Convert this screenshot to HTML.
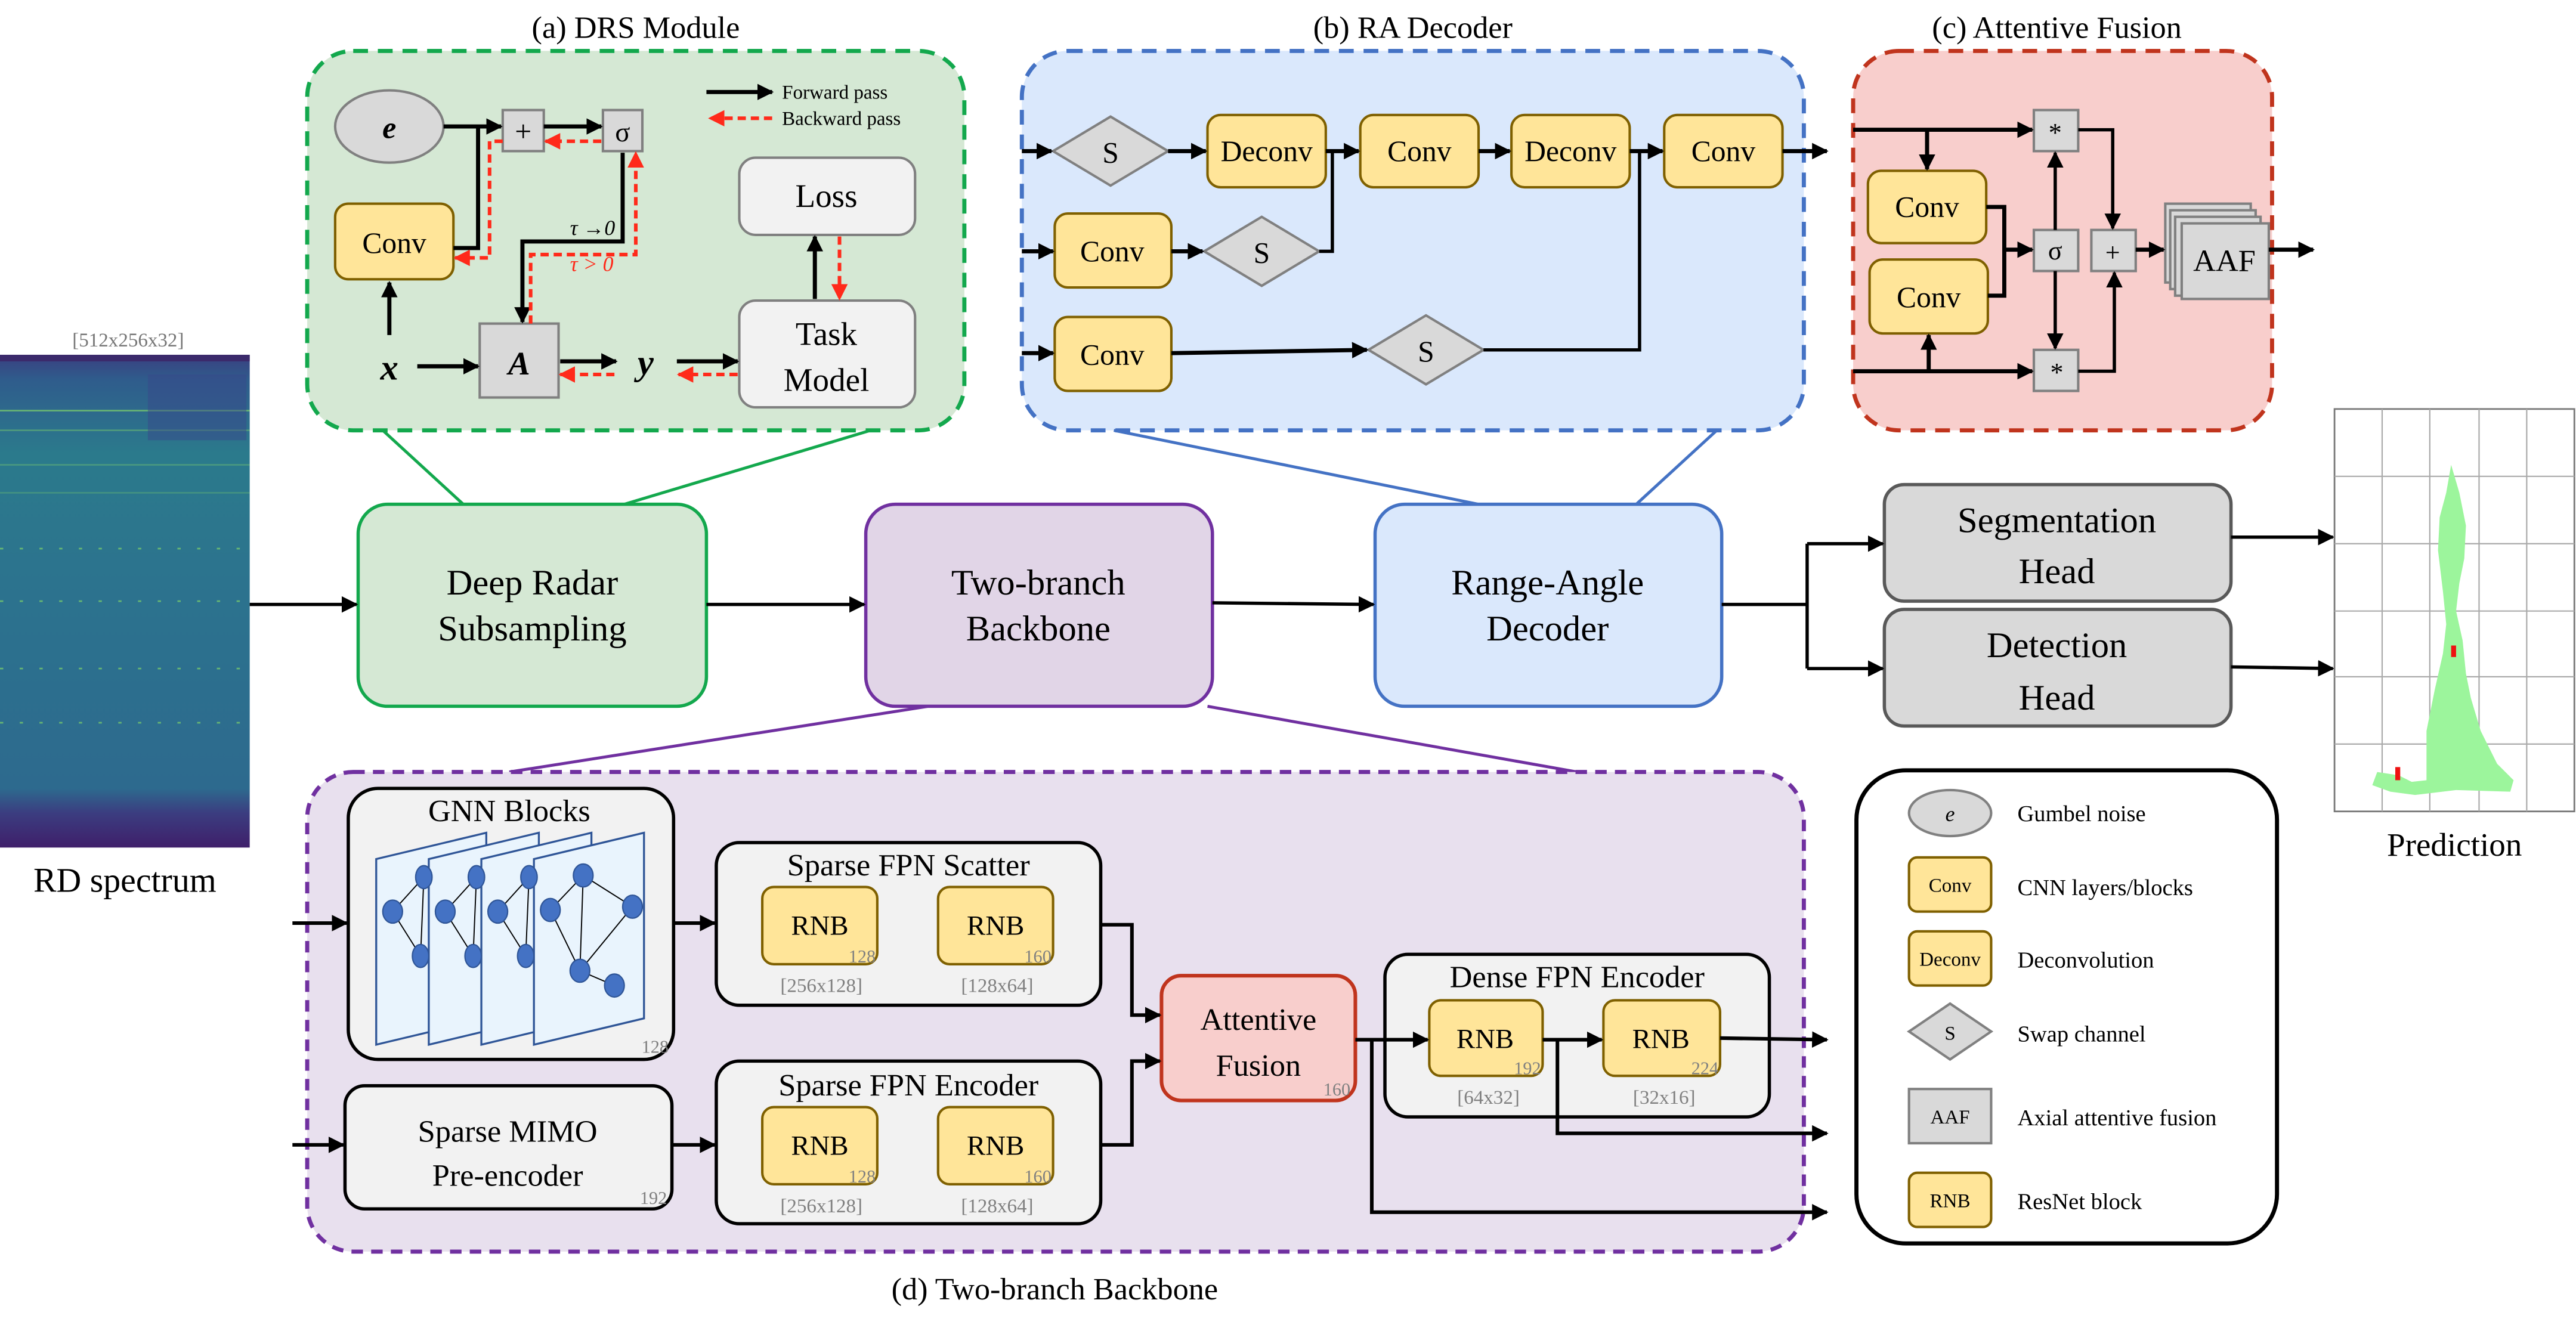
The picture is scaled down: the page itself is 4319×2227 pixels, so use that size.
<!DOCTYPE html>
<html><head><meta charset="utf-8"><style>
html,body{margin:0;padding:0;background:#fff;}
svg{display:block;font-family:"Liberation Serif","Times New Roman","DejaVu Serif",serif;}
svg text{font-family:"Liberation Serif","Times New Roman","DejaVu Serif",serif;}
</style></head><body>
<svg width="4319" height="2227" viewBox="0 0 1568 808.5" xmlns="http://www.w3.org/2000/svg" font-family="Liberation Serif, Times New Roman, DejaVu Serif, serif">
<defs>
<marker id="ah" viewBox="0 0 10 10" refX="9" refY="5" markerWidth="10" markerHeight="10" markerUnits="userSpaceOnUse" orient="auto"><path d="M0,0L10,5L0,10z" fill="#000"/></marker>
<marker id="ahr" viewBox="0 0 10 10" refX="9" refY="5" markerWidth="10" markerHeight="10" markerUnits="userSpaceOnUse" orient="auto"><path d="M0,0L10,5L0,10z" fill="#ff2a1a"/></marker>
<linearGradient id="spec" x1="0" y1="0" x2="0" y2="1">
<stop offset="0" stop-color="#3a3f80"/><stop offset="0.05" stop-color="#2f5c8c"/><stop offset="0.2" stop-color="#2b7a8c"/><stop offset="0.5" stop-color="#2c728e"/><stop offset="0.88" stop-color="#2d6a8e"/><stop offset="0.93" stop-color="#3b3d80"/><stop offset="1" stop-color="#3f1f6a"/>
</linearGradient>
</defs>
<g stroke-linecap="butt">
<!-- Spectrum -->
<text x="78" y="211" font-size="12" fill="#777" text-anchor="middle">[512x256x32]</text>
<rect x="0" y="216" width="152" height="300" fill="url(#spec)"/>
<rect x="0" y="216" width="152" height="4" fill="#3b2a6b"/>
<g stroke="#7fd36a" stroke-width="1" opacity="0.7">
<line x1="0" y1="250" x2="152" y2="250"/><line x1="0" y1="262" x2="152" y2="262" opacity="0.6"/>
<line x1="0" y1="283" x2="152" y2="283" opacity="0.5"/><line x1="0" y1="300" x2="152" y2="300" opacity="0.4"/>
<line x1="0" y1="334" x2="152" y2="334" stroke-dasharray="2 10"/><line x1="0" y1="366" x2="152" y2="366" stroke-dasharray="2 10"/>
<line x1="0" y1="407" x2="152" y2="407" stroke-dasharray="2 10"/><line x1="0" y1="440" x2="152" y2="440" stroke-dasharray="2 10"/>
</g>
<rect x="90" y="228" width="60" height="40" fill="#37488a" opacity="0.5"/>
<text x="76" y="543" font-size="21" text-anchor="middle">RD spectrum</text>

<!-- (a) DRS -->
<text x="387" y="23" font-size="19" text-anchor="middle">(a) DRS Module</text>
<rect x="187" y="31" width="400" height="231" rx="28" fill="#d5e8d4" stroke="#13a84d" stroke-width="2.5" stroke-dasharray="9 6"/>
<ellipse cx="237" cy="77" rx="33" ry="22" fill="#d9d9d9" stroke="#808080" stroke-width="1.5"/>
<text x="237" y="84" font-size="19" font-style="italic" font-weight="bold" text-anchor="middle">e</text>
<rect x="306" y="67" width="25" height="25" fill="#d9d9d9" stroke="#808080" stroke-width="1.5"/>
<text x="318.5" y="86" font-size="18" text-anchor="middle">+</text>
<rect x="367" y="67" width="24" height="25" fill="#d9d9d9" stroke="#808080" stroke-width="1.5"/>
<text x="379" y="86" font-size="17" text-anchor="middle">σ</text>
<rect x="204" y="124" width="72" height="46" rx="8" fill="#ffe599" stroke="#7f6000" stroke-width="1.5"/>
<text x="240" y="154" font-size="18" text-anchor="middle">Conv</text>
<rect x="450" y="96" width="107" height="47" rx="10" fill="#f2f2f2" stroke="#808080" stroke-width="1.5"/>
<text x="503" y="126" font-size="20" text-anchor="middle">Loss</text>
<rect x="450" y="183" width="107" height="65" rx="10" fill="#f2f2f2" stroke="#808080" stroke-width="1.5"/>
<text x="503" y="210" font-size="20" text-anchor="middle">Task</text>
<text x="503" y="238" font-size="20" text-anchor="middle">Model</text>
<rect x="292" y="197" width="48" height="45" fill="#d9d9d9" stroke="#808080" stroke-width="1.5"/>
<text x="316" y="228" font-size="20" font-style="italic" font-weight="bold" text-anchor="middle">A</text>
<text x="237" y="231" font-size="22" font-style="italic" font-weight="bold" text-anchor="middle">x</text>
<text x="393" y="228" font-size="22" font-style="italic" font-weight="bold" text-anchor="middle">y</text>
<g stroke="#000" stroke-width="2.5" fill="none">
<line x1="270" y1="77" x2="305" y2="77" marker-end="url(#ah)"/>
<line x1="331" y1="77" x2="366" y2="77" marker-end="url(#ah)"/>
<polyline points="276,151 291,151 291,77"/>
<line x1="237" y1="204" x2="237" y2="172" marker-end="url(#ah)"/>
<line x1="254" y1="223" x2="291" y2="223" marker-end="url(#ah)"/>
<line x1="341" y1="220" x2="375" y2="220" marker-end="url(#ah)"/>
<line x1="412" y1="220" x2="449" y2="220" marker-end="url(#ah)"/>
<line x1="496" y1="182" x2="496" y2="144" marker-end="url(#ah)"/>
<polyline points="379,93 379,147 318,147 318,196" marker-end="url(#ah)"/>
<line x1="430" y1="56" x2="470" y2="56" marker-end="url(#ah)"/>
</g>
<g stroke="#ff2a1a" stroke-width="2.2" fill="none" stroke-dasharray="5 3">
<line x1="366" y1="86" x2="332" y2="86" marker-end="url(#ahr)"/>
<polyline points="306,86 298,86 298,157 277,157" marker-end="url(#ahr)"/>
<polyline points="323,197 323,155 387,155 387,93" marker-end="url(#ahr)"/>
<line x1="374" y1="228" x2="341" y2="228" marker-end="url(#ahr)"/>
<line x1="449" y1="228" x2="413" y2="228" marker-end="url(#ahr)"/>
<line x1="511" y1="144" x2="511" y2="182" marker-end="url(#ahr)"/>
<line x1="470" y1="72" x2="432" y2="72" marker-end="url(#ahr)"/>
</g>
<text x="476" y="60" font-size="12">Forward pass</text>
<text x="476" y="76" font-size="12">Backward pass</text>
<text x="347" y="143" font-size="13" font-style="italic">τ →0</text>
<text x="347" y="165" font-size="13" font-style="italic" fill="#ff2a1a">τ &gt; 0</text>

<!-- (b) RA decoder -->
<text x="860" y="23" font-size="19" text-anchor="middle">(b) RA Decoder</text>
<rect x="622" y="31" width="476" height="231" rx="28" fill="#dae8fc" stroke="#4472c4" stroke-width="2.5" stroke-dasharray="9 6"/>
<g fill="#ffe599" stroke="#7f6000" stroke-width="1.5">
<rect x="735" y="70" width="72" height="44" rx="8"/>
<rect x="828" y="70" width="72" height="44" rx="8"/>
<rect x="920" y="70" width="72" height="44" rx="8"/>
<rect x="1013" y="70" width="72" height="44" rx="8"/>
<rect x="642" y="130" width="71" height="45" rx="8"/>
<rect x="642" y="193" width="71" height="45" rx="8"/>
</g>
<g fill="#d9d9d9" stroke="#808080" stroke-width="1.5">
<polygon points="641,92 676,71 711,92 676,113"/>
<polygon points="733,153 768,132 803,153 768,174"/>
<polygon points="833,213 868,192 903,213 868,234"/>
</g>
<g font-size="18" text-anchor="middle">
<text x="676" y="99">S</text><text x="768" y="160">S</text><text x="868" y="220">S</text>
<text x="771" y="98">Deconv</text><text x="864" y="98">Conv</text><text x="956" y="98">Deconv</text><text x="1049" y="98">Conv</text>
<text x="677" y="159">Conv</text><text x="677" y="222">Conv</text>
</g>
<g stroke="#000" stroke-width="2.5" fill="none">
<line x1="622" y1="92" x2="640" y2="92" marker-end="url(#ah)"/>
<line x1="622" y1="153" x2="641" y2="153" marker-end="url(#ah)"/>
<line x1="622" y1="215" x2="641" y2="215" marker-end="url(#ah)"/>
<line x1="711" y1="92" x2="734" y2="92" marker-end="url(#ah)"/>
<line x1="807" y1="92" x2="827" y2="92" marker-end="url(#ah)"/>
<line x1="900" y1="92" x2="919" y2="92" marker-end="url(#ah)"/>
<line x1="992" y1="92" x2="1012" y2="92" marker-end="url(#ah)"/>
<line x1="1085" y1="92" x2="1112" y2="92" marker-end="url(#ah)"/>
<line x1="713" y1="153" x2="732" y2="153" marker-end="url(#ah)"/>
<line x1="713" y1="215" x2="832" y2="213" marker-end="url(#ah)"/>
</g>
<g stroke="#000" stroke-width="2" fill="none">
<polyline points="803,153 811,153 811,92"/>
<polyline points="903,213 998,213 998,92"/>
</g>

<!-- (c) Attentive fusion -->
<text x="1252" y="23" font-size="19" text-anchor="middle">(c) Attentive Fusion</text>
<rect x="1128" y="31" width="255" height="231" rx="28" fill="#f8cecc" stroke="#c0341d" stroke-width="2.5" stroke-dasharray="9 6"/>
<g fill="#ffe599" stroke="#7f6000" stroke-width="1.5">
<rect x="1137" y="104" width="72" height="44" rx="8"/>
<rect x="1138" y="158" width="72" height="45" rx="8"/>
</g>
<text x="1173" y="132" font-size="18" text-anchor="middle">Conv</text>
<text x="1174" y="187" font-size="18" text-anchor="middle">Conv</text>
<g fill="#d9d9d9" stroke="#808080" stroke-width="1.5">
<rect x="1238" y="67" width="27" height="25"/>
<rect x="1238" y="140" width="27" height="25"/>
<rect x="1273" y="140" width="27" height="25"/>
<rect x="1238" y="213" width="27" height="25"/>
<rect x="1318" y="124" width="52" height="48"/>
<rect x="1321" y="128" width="52" height="48"/>
<rect x="1324" y="132" width="52" height="48"/>
<rect x="1328" y="136" width="53" height="46"/>
</g>
<g font-size="16" text-anchor="middle">
<text x="1251" y="86">*</text><text x="1252" y="232">*</text>
<text x="1251" y="158">σ</text><text x="1286" y="159">+</text>
<text x="1354" y="165" font-size="19">AAF</text>
</g>
<g stroke="#000" stroke-width="2.5" fill="none">
<line x1="1128" y1="79" x2="1237" y2="79" marker-end="url(#ah)"/>
<line x1="1128" y1="226" x2="1237" y2="226" marker-end="url(#ah)"/>
<line x1="1173" y1="79" x2="1173" y2="103" marker-end="url(#ah)"/>
<line x1="1174" y1="226" x2="1174" y2="204" marker-end="url(#ah)"/>
<line x1="1300" y1="152" x2="1317" y2="152" marker-end="url(#ah)"/>
<line x1="1381" y1="152" x2="1408" y2="152" marker-end="url(#ah)"/>
<polyline points="1209,126 1220,126 1220,180 1210,180"/>
<line x1="1220" y1="152" x2="1237" y2="152" marker-end="url(#ah)"/>
</g>
<g stroke="#000" stroke-width="2" fill="none">
<line x1="1251" y1="140" x2="1251" y2="93" marker-end="url(#ah)"/>
<line x1="1251" y1="165" x2="1251" y2="212" marker-end="url(#ah)"/>
<polyline points="1265,79 1286,79 1286,139" marker-end="url(#ah)"/>
<polyline points="1265,226 1287,226 1287,166" marker-end="url(#ah)"/>
</g>

<!-- connectors -->
<g stroke-width="1.8">
<line x1="233" y1="262" x2="282" y2="307" stroke="#13a84d"/>
<line x1="530" y1="262" x2="380" y2="307" stroke="#13a84d"/>
<line x1="678" y1="262" x2="900" y2="307" stroke="#4472c4"/>
<line x1="1045" y1="262" x2="996" y2="307" stroke="#4472c4"/>
<line x1="565" y1="430" x2="310" y2="470" stroke="#7030a0"/>
<line x1="735" y1="430" x2="960" y2="470" stroke="#7030a0"/>
</g>

<!-- main row -->
<rect x="218" y="307" width="212" height="123" rx="18" fill="#d5e8d4" stroke="#13a84d" stroke-width="2"/>
<text x="324" y="362" font-size="22" text-anchor="middle">Deep Radar</text>
<text x="324" y="390" font-size="22" text-anchor="middle">Subsampling</text>
<rect x="527" y="307" width="211" height="123" rx="18" fill="#e1d5e7" stroke="#7030a0" stroke-width="2"/>
<text x="632" y="362" font-size="22" text-anchor="middle">Two-branch</text>
<text x="632" y="390" font-size="22" text-anchor="middle">Backbone</text>
<rect x="837" y="307" width="211" height="123" rx="18" fill="#dae8fc" stroke="#4472c4" stroke-width="2"/>
<text x="942" y="362" font-size="22" text-anchor="middle">Range-Angle</text>
<text x="942" y="390" font-size="22" text-anchor="middle">Decoder</text>
<rect x="1147" y="295" width="211" height="71" rx="12" fill="#d9d9d9" stroke="#595959" stroke-width="2"/>
<text x="1252" y="324" font-size="22" text-anchor="middle">Segmentation</text>
<text x="1252" y="355" font-size="22" text-anchor="middle">Head</text>
<rect x="1147" y="371" width="211" height="71" rx="12" fill="#d9d9d9" stroke="#595959" stroke-width="2"/>
<text x="1252" y="400" font-size="22" text-anchor="middle">Detection</text>
<text x="1252" y="432" font-size="22" text-anchor="middle">Head</text>
<g stroke="#000" stroke-width="2" fill="none">
<line x1="152" y1="368" x2="217" y2="368" marker-end="url(#ah)"/>
<line x1="430" y1="368" x2="526" y2="368" marker-end="url(#ah)"/>
<line x1="738" y1="367" x2="836" y2="368" marker-end="url(#ah)"/>
<polyline points="1048,368 1100,368"/>
<polyline points="1100,331 1100,407"/>
<line x1="1100" y1="331" x2="1146" y2="331" marker-end="url(#ah)"/>
<line x1="1100" y1="407" x2="1146" y2="407" marker-end="url(#ah)"/>
<line x1="1358" y1="327" x2="1420" y2="327" marker-end="url(#ah)"/>
<line x1="1358" y1="406" x2="1420" y2="407" marker-end="url(#ah)"/>
</g>

<!-- prediction -->
<rect x="1421" y="249" width="146" height="245" fill="#fff" stroke="#777" stroke-width="1"/>
<g stroke="#aaa" stroke-width="0.8">
<line x1="1450" y1="249" x2="1450" y2="494"/><line x1="1479" y1="249" x2="1479" y2="494"/><line x1="1509" y1="249" x2="1509" y2="494"/><line x1="1538" y1="249" x2="1538" y2="494"/>
<line x1="1421" y1="290" x2="1567" y2="290"/><line x1="1421" y1="331" x2="1567" y2="331"/><line x1="1421" y1="372" x2="1567" y2="372"/><line x1="1421" y1="412" x2="1567" y2="412"/><line x1="1421" y1="453" x2="1567" y2="453"/>
</g>
<path d="M1492,283 L1497,300 L1501,320 L1500,340 L1497,355 L1495,372 L1499,390 L1501,410 L1504,425 L1510,445 L1520,465 L1530,475 L1528,482 L1495,481 L1470,484 L1455,482 L1444,478 L1447,470 L1460,472 L1468,476 L1477,475 L1477,445 L1482,420 L1487,398 L1489,380 L1487,360 L1484,335 L1485,315 L1489,300 Z" fill="#9cf59c"/>
<rect x="1492" y="393" width="3" height="7" fill="#ee1111"/>
<rect x="1458" y="467" width="3" height="8" fill="#ee1111"/>
<text x="1494" y="521" font-size="20" text-anchor="middle">Prediction</text>

<!-- (d) backbone -->
<rect x="187" y="470" width="911" height="292" rx="28" fill="#e8e0ee" stroke="#7030a0" stroke-width="2.5" stroke-dasharray="7 5"/>
<text x="642" y="791" font-size="19" text-anchor="middle">(d) Two-branch Backbone</text>
<rect x="212" y="480" width="198" height="165" rx="18" fill="#f2f2f2" stroke="#000" stroke-width="2"/>
<text x="310" y="500" font-size="19" text-anchor="middle">GNN Blocks</text>
<g stroke="#2f5597" stroke-width="1.2">
<polygon points="229,523 296,507 296,620 229,636" fill="#e9f4fd"/>
<polygon points="261,523 328,507 328,620 261,636" fill="#e9f4fd"/>
<polygon points="293,523 360,507 360,620 293,636" fill="#e9f4fd"/>
<polygon points="325,523 392,507 392,620 325,636" fill="#e9f4fd"/>
</g>
<g stroke="#000" stroke-width="0.7" fill="none">
<path d="M239,555 L258,534 L256,582 Z M271,555 L290,534 L288,582 Z M303,555 L322,534 L320,582 Z"/>
<path d="M335,554 L355,533 L385,552 L353,591 L374,600 M355,533 L353,591 M335,554 L353,591"/>
</g>
<g fill="#4472c4" stroke="#2f5597" stroke-width="0.8">
<ellipse cx="239" cy="555" rx="6" ry="7"/><ellipse cx="258" cy="534" rx="5" ry="7"/><ellipse cx="256" cy="582" rx="5" ry="7"/>
<ellipse cx="271" cy="555" rx="6" ry="7"/><ellipse cx="290" cy="534" rx="5" ry="7"/><ellipse cx="288" cy="582" rx="5" ry="7"/>
<ellipse cx="303" cy="555" rx="6" ry="7"/><ellipse cx="322" cy="534" rx="5" ry="7"/><ellipse cx="320" cy="582" rx="5" ry="7"/>
<ellipse cx="335" cy="554" rx="6" ry="7"/><ellipse cx="355" cy="533" rx="6" ry="7"/><ellipse cx="385" cy="552" rx="6" ry="7"/><ellipse cx="353" cy="591" rx="6" ry="7"/><ellipse cx="374" cy="600" rx="6" ry="7"/>
</g>
<text x="407" y="641" font-size="11" fill="#808080" text-anchor="end">128</text>

<rect x="210" y="661" width="199" height="75" rx="12" fill="#f2f2f2" stroke="#000" stroke-width="2"/>
<text x="309" y="695" font-size="19" text-anchor="middle">Sparse MIMO</text>
<text x="309" y="722" font-size="19" text-anchor="middle">Pre-encoder</text>
<text x="406" y="733" font-size="11" fill="#808080" text-anchor="end">192</text>

<rect x="436" y="513" width="234" height="99" rx="14" fill="#f2f2f2" stroke="#000" stroke-width="2"/>
<text x="553" y="533" font-size="19" text-anchor="middle">Sparse FPN Scatter</text>
<rect x="436" y="646" width="234" height="99" rx="14" fill="#f2f2f2" stroke="#000" stroke-width="2"/>
<text x="553" y="667" font-size="19" text-anchor="middle">Sparse FPN Encoder</text>
<rect x="843" y="581" width="234" height="99" rx="14" fill="#f2f2f2" stroke="#000" stroke-width="2"/>
<text x="960" y="601" font-size="19" text-anchor="middle">Dense FPN Encoder</text>

<g fill="#ffe599" stroke="#7f6000" stroke-width="1.5">
<rect x="464" y="540" width="70" height="47" rx="7"/><rect x="571" y="540" width="70" height="47" rx="7"/>
<rect x="464" y="674" width="70" height="47" rx="7"/><rect x="571" y="674" width="70" height="47" rx="7"/>
<rect x="870" y="609" width="69" height="46" rx="7"/><rect x="976" y="609" width="71" height="46" rx="7"/>
</g>
<g font-size="17" text-anchor="middle">
<text x="499" y="569">RNB</text><text x="606" y="569">RNB</text>
<text x="499" y="703">RNB</text><text x="606" y="703">RNB</text>
<text x="904" y="638">RNB</text><text x="1011" y="638">RNB</text>
</g>
<g font-size="11" fill="#808080" text-anchor="end">
<text x="533" y="586">128</text><text x="640" y="586">160</text>
<text x="533" y="720">128</text><text x="640" y="720">160</text>
<text x="938" y="654">192</text><text x="1046" y="654">224</text>
</g>
<g font-size="12" fill="#808080" text-anchor="middle">
<text x="500" y="604">[256x128]</text><text x="607" y="604">[128x64]</text>
<text x="500" y="738">[256x128]</text><text x="607" y="738">[128x64]</text>
<text x="906" y="672">[64x32]</text><text x="1013" y="672">[32x16]</text>
</g>

<rect x="707" y="594" width="118" height="76" rx="12" fill="#f8cecc" stroke="#c0341d" stroke-width="2.2"/>
<text x="766" y="627" font-size="19" text-anchor="middle">Attentive</text>
<text x="766" y="655" font-size="19" text-anchor="middle">Fusion</text>
<text x="822" y="667" font-size="11" fill="#808080" text-anchor="end">160</text>

<g stroke="#000" stroke-width="2.2" fill="none">
<line x1="178" y1="562" x2="211" y2="562" marker-end="url(#ah)"/>
<line x1="178" y1="697" x2="209" y2="697" marker-end="url(#ah)"/>
<line x1="410" y1="562" x2="435" y2="562" marker-end="url(#ah)"/>
<line x1="409" y1="697" x2="435" y2="697" marker-end="url(#ah)"/>
<polyline points="670,563 689,563 689,618 706,618" marker-end="url(#ah)"/>
<polyline points="670,697 689,697 689,646 706,646" marker-end="url(#ah)"/>
<line x1="825" y1="633" x2="869" y2="633" marker-end="url(#ah)"/>
<line x1="939" y1="633" x2="975" y2="633" marker-end="url(#ah)"/>
<line x1="1047" y1="632" x2="1112" y2="633" marker-end="url(#ah)"/>
<polyline points="948,633 948,690 1112,690" marker-end="url(#ah)"/>
<polyline points="835,633 835,738 1112,738" marker-end="url(#ah)"/>
</g>

<!-- legend -->
<rect x="1130" y="469" width="256" height="288" rx="30" fill="#fff" stroke="#000" stroke-width="2.5"/>
<ellipse cx="1187" cy="495" rx="25" ry="14" fill="#d9d9d9" stroke="#808080" stroke-width="1.5"/>
<text x="1187" y="500" font-size="13" font-style="italic" text-anchor="middle">e</text>
<rect x="1162" y="522" width="50" height="33" rx="5" fill="#ffe599" stroke="#7f6000" stroke-width="1.5"/>
<text x="1187" y="543" font-size="12" text-anchor="middle">Conv</text>
<rect x="1162" y="567" width="50" height="33" rx="5" fill="#ffe599" stroke="#7f6000" stroke-width="1.5"/>
<text x="1187" y="588" font-size="12" text-anchor="middle">Deconv</text>
<polygon points="1162,628 1187,611 1212,628 1187,645" fill="#d9d9d9" stroke="#808080" stroke-width="1.5"/>
<text x="1187" y="633" font-size="12" text-anchor="middle">S</text>
<rect x="1162" y="663" width="50" height="33" fill="#d9d9d9" stroke="#808080" stroke-width="1.5"/>
<text x="1187" y="684" font-size="12" text-anchor="middle">AAF</text>
<rect x="1162" y="714" width="50" height="33" rx="5" fill="#ffe599" stroke="#7f6000" stroke-width="1.5"/>
<text x="1187" y="735" font-size="12" text-anchor="middle">RNB</text>
<g font-size="14">
<text x="1228" y="500">Gumbel noise</text>
<text x="1228" y="545">CNN layers/blocks</text>
<text x="1228" y="589">Deconvolution</text>
<text x="1228" y="634">Swap channel</text>
<text x="1228" y="685">Axial attentive fusion</text>
<text x="1228" y="736">ResNet block</text>
</g>
</g>
</svg>
</body></html>
